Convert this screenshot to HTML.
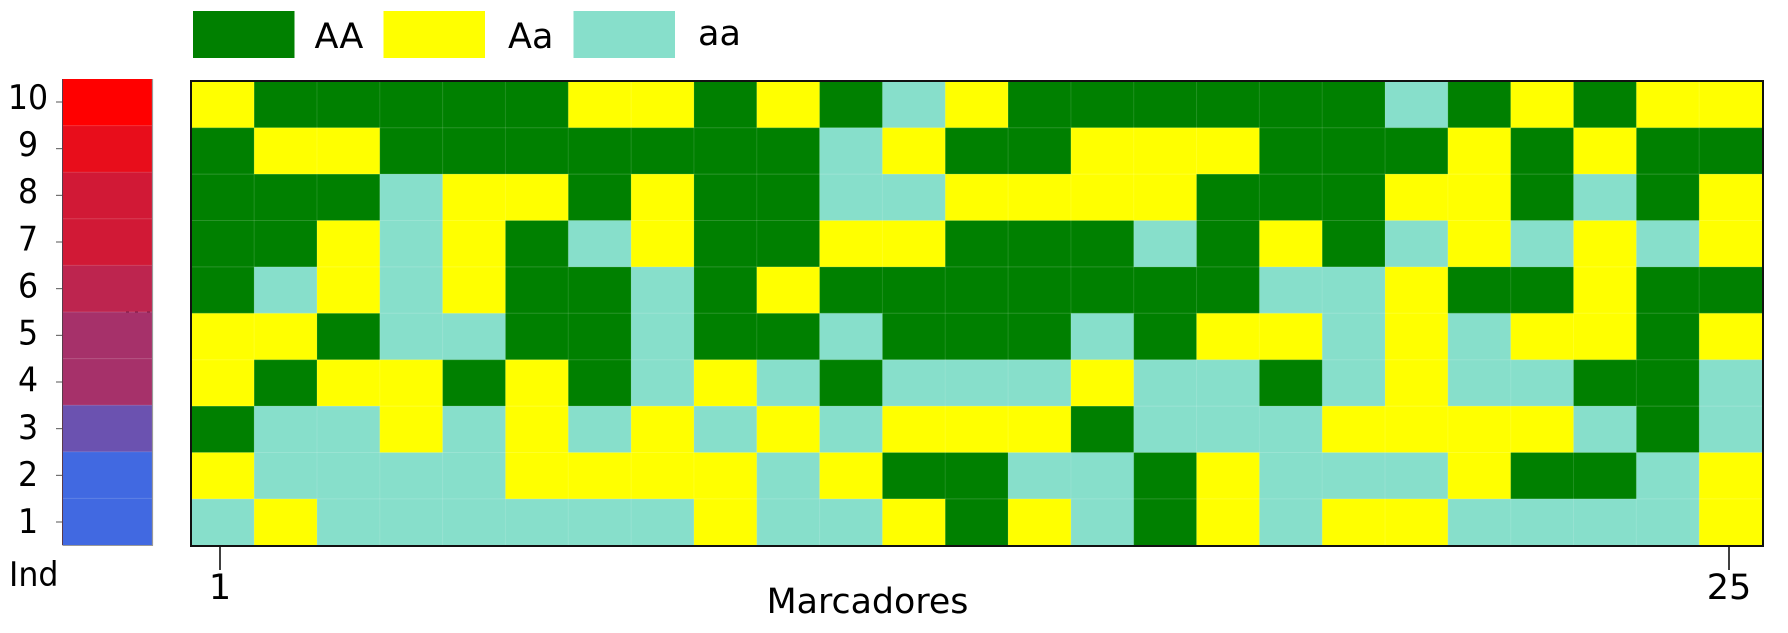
<!DOCTYPE html>
<html lang="pt">
<head>
<meta charset="utf-8">
<title>Genotype heatmap</title>
<style>
html,body{margin:0;padding:0;background:#fff;width:1788px;height:633px;overflow:hidden}
svg{display:block;font-family:"DejaVu Sans",sans-serif;fill:#000}
</style>
</head>
<body>
<svg id="chart" xmlns="http://www.w3.org/2000/svg" width="1788" height="633" viewBox="0 0 1788 633">
  <rect x="0" y="0" width="1788" height="633" fill="#fff"/>
  <g>
    <g>
      <rect x="193" y="11" width="101.500" height="47" fill="#008000"/>
      <text x="314.500" y="48" font-size="35">AA</text>
    </g>
    <g>
      <rect x="383.500" y="11" width="101.500" height="47" fill="#ffff00"/>
      <text x="508" y="48" font-size="35">Aa</text>
    </g>
    <g>
      <rect x="573.500" y="11" width="101.500" height="47" fill="#87dfcb"/>
      <text x="698" y="45" font-size="35">aa</text>
    </g>
  </g>
  <g id="ind-bar"></g>
  <g id="ind-axis"></g>
  <g id="cells"></g>
  <g id="seams"></g>
  <rect x="191" y="81" width="1572" height="465" fill="none" stroke="#111" stroke-width="2"/>
  <g id="x-axis"></g>
  <text transform="translate(9 586) scale(0.93 1)" font-size="34">Ind</text>
  <text x="867.500" y="613" font-size="34.800" text-anchor="middle">Marcadores</text>
  <g stroke="#7a1f45" stroke-width="1">
    <line x1="126" y1="312" x2="129" y2="312"/>
    <line x1="135" y1="312" x2="138" y2="312"/>
    <line x1="147" y1="312" x2="150" y2="312"/>
  </g>
</svg>
<script>
// Genotype per marker (1..25) for each individual. A = AA, H = Aa, R = aa.
const ind10 = ["H","A","A","A","A","A","H","H","A","H","A","R","H","A","A","A","A","A","A","R","A","H","A","H","H"];
const ind9  = ["A","H","H","A","A","A","A","A","A","A","R","H","A","A","H","H","H","A","A","A","H","A","H","A","A"];
const ind8  = ["A","A","A","R","H","H","A","H","A","A","R","R","H","H","H","H","A","A","A","H","H","A","R","A","H"];
const ind7  = ["A","A","H","R","H","A","R","H","A","A","H","H","A","A","A","R","A","H","A","R","H","R","H","R","H"];
const ind6  = ["A","R","H","R","H","A","A","R","A","H","A","A","A","A","A","A","A","R","R","H","A","A","H","A","A"];
const ind5  = ["H","H","A","R","R","A","A","R","A","A","R","A","A","A","R","A","H","H","R","H","R","H","H","A","H"];
const ind4  = ["H","A","H","H","A","H","A","R","H","R","A","R","R","R","H","R","R","A","R","H","R","R","A","A","R"];
const ind3  = ["A","R","R","H","R","H","R","H","R","H","R","H","H","H","A","R","R","R","H","H","H","H","R","A","R"];
const ind2  = ["H","R","R","R","R","H","H","H","H","R","H","A","A","R","R","A","H","R","R","R","H","A","A","R","H"];
const ind1  = ["R","H","R","R","R","R","R","R","H","R","R","H","A","H","R","A","H","R","H","H","R","R","R","R","H"];

// Row order: top of the chart first.
const individuals = [10,9,8,7,6,5,4,3,2,1];
const genotypeRows = [ind10,ind9,ind8,ind7,ind6,ind5,ind4,ind3,ind2,ind1];
const individualScores = [1,0.88,0.76,0.76,0.65,0.53,0.53,0.22,0,0];
const markerTicks = [1,25];

const NS = "http://www.w3.org/2000/svg";
const genotypeFill = {A:"#008000",H:"#ffff00",R:"#87dfcb"};
const genotypeName = {A:"AA",H:"Aa",R:"aa"};

// Axis functions
const plot = {left:191.3,right:1762,top:81.3,bottom:545.3};
const colW = () => (plot.right-plot.left)/genotypeRows[0].length;
const rowH = () => (plot.bottom-plot.top)/genotypeRows.length;
const xCell = i => plot.left+i*colW();
const yCell = r => plot.top+r*rowH();
const xMarker = m => 220+(m-1)*(1729-220)/(genotypeRows[0].length-1);
const barTop = r => 79+r*(545-79)/individuals.length;
const tickY = r => 102+r*(522-102)/(individuals.length-1);
const labelBase = r => 109+r*(533-109)/(individuals.length-1);
const mix = t => {
  const a=[65,105,225], b=[255,0,0];
  return "rgb("+a.map((v,k)=>Math.round(v+(b[k]-v)*t)).join(",")+")";
};
function mk(parent,tag,attrs,text){
  const e=document.createElementNS(NS,tag);
  for(const k in attrs) e.setAttribute(k,attrs[k]);
  if(text!==undefined) e.textContent=text;
  parent.appendChild(e);
  return e;
}

const cellsG=document.getElementById("cells");
genotypeRows.forEach((row,r)=>{
  row.forEach((g,c)=>{
    const el=mk(cellsG,"rect",{x:xCell(c),y:yCell(r),width:colW()+0.3,height:rowH()+0.3,fill:genotypeFill[g]});
    
    
  });
});

const seamsG=document.getElementById("seams");
genotypeRows.forEach((row,r)=>{
  if(r===0) return;
  const el=mk(seamsG,"line",{x1:plot.left,x2:plot.right,y1:yCell(r),y2:yCell(r),stroke:"#fff","stroke-opacity":0.16,"stroke-width":1});
  
  
});
genotypeRows[0].forEach((g,c)=>{
  if(c===0) return;
  const el=mk(seamsG,"line",{x1:xCell(c),x2:xCell(c),y1:plot.top,y2:plot.bottom,stroke:"#fff","stroke-opacity":0.12,"stroke-width":1});
  
  
});

const barG=document.getElementById("ind-bar");
individuals.forEach((ind,r)=>{
  const el=mk(barG,"rect",{x:62.5,y:barTop(r),width:89.5,height:barTop(r+1)-barTop(r)+0.3,fill:mix(individualScores[r])});
  
  
  if(r>0){
    const s=mk(barG,"line",{x1:62.5,x2:152,y1:barTop(r),y2:barTop(r),stroke:"#fff","stroke-opacity":0.16,"stroke-width":1});
    
    
  }
});
const barLeft=mk(barG,"line",{x1:62.5,x2:62.5,y1:barTop(0),y2:barTop(individuals.length),stroke:"#5a3a4a","stroke-width":1});


const barRight=mk(barG,"line",{x1:152.500,x2:152.500,y1:barTop(0),y2:barTop(individuals.length)+0.5,stroke:"#9a9a9a","stroke-width":1.2});


const barBottom=mk(barG,"line",{x1:62.5,x2:153,y1:barTop(individuals.length)+0.5,y2:barTop(individuals.length)+0.5,stroke:"#9a9a9a","stroke-width":1});



const indAxis=document.getElementById("ind-axis");
individuals.forEach((ind,r)=>{
  const t=mk(indAxis,"line",{x1:56,x2:62,y1:tickY(r),y2:tickY(r),stroke:"#555","stroke-width":1});
  
  
  const l=mk(indAxis,"text",{transform:"translate(28 "+labelBase(r)+") scale(0.93 1)","font-size":34,"text-anchor":"middle"},String(ind));
  
  
});

const xAxis=document.getElementById("x-axis");
markerTicks.forEach(m=>{
  const t=mk(xAxis,"line",{x1:xMarker(m),x2:xMarker(m),y1:546,y2:570,stroke:"#111","stroke-width":1.6});
  
  
  const l=mk(xAxis,"text",{x:xMarker(m),y:599,"font-size":35,"text-anchor":"middle"},String(m));
  
  
});
</script>
</body>
</html>
